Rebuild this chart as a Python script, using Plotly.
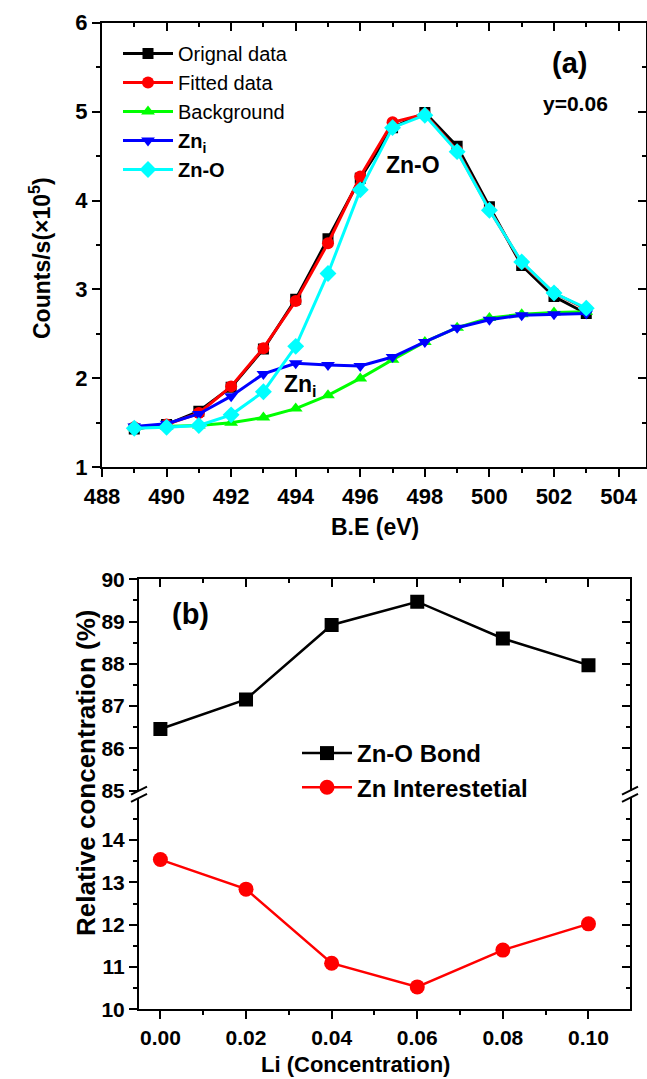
import plotly.graph_objects as go

W, H = 647, 1079

# ---------------- data: panel (a) ----------------
be_ev = [489, 490, 491, 492, 493, 494, 495, 496, 497, 498, 499, 500, 501, 502, 503]
original = [1.43, 1.48, 1.63, 1.90, 2.33, 2.89, 3.57, 4.25, 4.82, 4.99, 4.61, 3.93, 3.27, 2.92, 2.73]
fitted = [1.45, 1.48, 1.61, 1.91, 2.34, 2.87, 3.52, 4.27, 4.88, 4.97, 4.56, 3.90, 3.30, 2.96, 2.78]
background = [1.45, 1.46, 1.47, 1.50, 1.56, 1.66, 1.81, 2.00, 2.21, 2.41, 2.57, 2.68, 2.72, 2.74, 2.75]
zn_i = [1.46, 1.49, 1.60, 1.80, 2.05, 2.17, 2.15, 2.14, 2.24, 2.41, 2.57, 2.66, 2.71, 2.72, 2.73]
zn_o = [1.44, 1.45, 1.47, 1.59, 1.85, 2.36, 3.18, 4.12, 4.82, 4.96, 4.55, 3.89, 3.31, 2.96, 2.79]

# ---------------- data: panel (b) ----------------
li_conc = [0.00, 0.02, 0.04, 0.06, 0.08, 0.10]
zno_bond = [86.46, 87.16, 88.92, 89.47, 88.60, 87.97]
zn_inter = [13.54, 12.84, 11.09, 10.53, 11.40, 12.02]

FONT = "Liberation Sans, Arial, sans-serif"


def px_x(p):
    return p / W


def px_y(p):
    return (H - p) / H


fig = go.Figure()

# panel (a) traces
series_a = [
    ("Orignal data", original, "#000000", "square", 11),
    ("Fitted data", fitted, "#ff0000", "circle", 12),
    ("Background", background, "#00ff00", "triangle-up", 12),
    ("<b>Zn<sub>i</sub></b>", zn_i, "#0000ff", "triangle-down", 12),
    ("<b>Zn-O</b>", zn_o, "#00ffff", "diamond", 13),
]
for name, vals, col, sym, sz in series_a:
    fig.add_trace(go.Scatter(
        x=be_ev, y=vals, name=name, mode="lines+markers",
        line=dict(color=col, width=3),
        marker=dict(color=col, symbol=sym, size=sz),
        xaxis="x", yaxis="y", legend="legend",
    ))

# dummy traces to activate the mirror (inside-tick) axes
fig.add_trace(go.Scatter(x=[], y=[], xaxis="x3", yaxis="y3", showlegend=False))
fig.add_trace(go.Scatter(x=[], y=[], xaxis="x4", yaxis="y6", showlegend=False))
fig.add_trace(go.Scatter(x=[], y=[], xaxis="x2", yaxis="y5", showlegend=False))

# panel (b) traces
fig.add_trace(go.Scatter(
    x=li_conc, y=zno_bond, name="Zn-O Bond", mode="lines+markers",
    line=dict(color="#000000", width=2.5),
    marker=dict(color="#000000", symbol="square", size=14),
    xaxis="x2", yaxis="y4", legend="legend2",
))
fig.add_trace(go.Scatter(
    x=li_conc, y=zn_inter, name="Zn Interestetial", mode="lines+markers",
    line=dict(color="#ff0000", width=2.5),
    marker=dict(color="#ff0000", symbol="circle", size=15),
    xaxis="x2", yaxis="y2", legend="legend2",
))

tick_font = dict(family=FONT, size=22, color="black", weight="bold")
tick_font_b = dict(family=FONT, size=21, color="black", weight="bold")

ax_common = dict(showline=True, linecolor="black", linewidth=2, showgrid=False,
                 zeroline=False, tickcolor="black", tickwidth=2)

top_xdom = [px_x(102), px_x(646)]
top_ydom = [px_y(467.3), px_y(22.7)]
bot_xdom = [px_x(139), px_x(630)]
low_ydom = [px_y(1009.3), px_y(797.8)]
up_ydom = [px_y(790.7), px_y(579.3)]

xr_a = [488, 504.85]
yr_a = [1, 6]
xr_b = [-0.005, 0.1097]

fig.update_layout(
    width=W, height=H,
    margin=dict(l=0, r=0, t=0, b=0),
    paper_bgcolor="white", plot_bgcolor="white",
    font=dict(family=FONT, color="black"),
    xaxis=dict(domain=top_xdom, range=xr_a, anchor="y", tickmode="linear", tick0=488, dtick=2,
               ticks="outside", ticklen=8, tickfont=tick_font, automargin=False,
               minor=dict(dtick=1, ticks="outside", ticklen=4, tickcolor="black", tickwidth=2),
               **ax_common),
    yaxis=dict(domain=top_ydom, range=yr_a, anchor="x", tickmode="linear", tick0=1, dtick=1,
               ticks="outside", ticklen=8, tickfont=tick_font, automargin=False,
               minor=dict(dtick=0.5, ticks="outside", ticklen=4, tickcolor="black", tickwidth=2),
               **ax_common),
    xaxis3=dict(overlaying="x", side="top", anchor="y", range=xr_a, tickmode="linear", tick0=488,
                dtick=2, ticks="inside", ticklen=8, showticklabels=False,
                minor=dict(dtick=1, ticks="inside", ticklen=4, tickcolor="black", tickwidth=2),
                **ax_common),
    yaxis3=dict(overlaying="y", side="right", anchor="x3", range=yr_a, tickmode="linear", tick0=1,
                dtick=1, ticks="inside", ticklen=8, showticklabels=False,
                minor=dict(dtick=0.5, ticks="inside", ticklen=4, tickcolor="black", tickwidth=2),
                **ax_common),
    xaxis2=dict(domain=bot_xdom, range=xr_b, anchor="y2", tickmode="linear", tick0=0, dtick=0.02,
                tickformat=".2f", ticks="outside", ticklen=8, tickfont=tick_font_b, automargin=False,
                minor=dict(dtick=0.01, ticks="outside", ticklen=4, tickcolor="black", tickwidth=2),
                **ax_common),
    yaxis2=dict(domain=low_ydom, range=[10, 15], anchor="x2", tickvals=[10, 11, 12, 13, 14],
                ticks="outside", ticklen=8, tickfont=tick_font_b, automargin=False,
                minor=dict(tickvals=[10.5, 11.5, 12.5, 13.5, 14.5], ticks="outside", ticklen=4,
                           tickcolor="black", tickwidth=2),
                **ax_common),
    yaxis4=dict(domain=up_ydom, range=[85, 90], anchor="x2", tickvals=[85, 86, 87, 88, 89, 90],
                ticks="outside", ticklen=8, tickfont=tick_font_b, automargin=False,
                minor=dict(tickvals=[85.5, 86.5, 87.5, 88.5, 89.5], ticks="outside", ticklen=4,
                           tickcolor="black", tickwidth=2),
                **ax_common),
    xaxis4=dict(overlaying="x2", side="top", anchor="y6", range=xr_b, tickmode="linear", tick0=0,
                dtick=0.02, ticks="inside", ticklen=8, showticklabels=False,
                minor=dict(dtick=0.01, ticks="inside", ticklen=4, tickcolor="black", tickwidth=2),
                **ax_common),
    yaxis5=dict(overlaying="y2", side="right", anchor="x2", range=[10, 15],
                tickvals=[10, 11, 12, 13, 14], ticks="inside", ticklen=8, showticklabels=False,
                minor=dict(tickvals=[10.5, 11.5, 12.5, 13.5, 14.5], ticks="inside", ticklen=4,
                           tickcolor="black", tickwidth=2),
                **ax_common),
    yaxis6=dict(overlaying="y4", side="right", anchor="x4", range=[85, 90],
                tickvals=[85, 86, 87, 88, 89, 90], ticks="inside", ticklen=8, showticklabels=False,
                minor=dict(tickvals=[85.5, 86.5, 87.5, 88.5, 89.5], ticks="inside", ticklen=4,
                           tickcolor="black", tickwidth=2),
                **ax_common),
    legend=dict(x=px_x(118), y=px_y(34), xanchor="left", yanchor="top",
                bgcolor="rgba(0,0,0,0)", font=dict(family=FONT, size=20, color="black"),
                itemwidth=50, tracegroupgap=0),
    legend2=dict(x=px_x(297), y=px_y(731), xanchor="left", yanchor="top",
                 bgcolor="rgba(0,0,0,0)", font=dict(family=FONT, size=24, color="black", weight="bold"),
                 itemwidth=50, tracegroupgap=0),
    showlegend=True,
)

ann_font = dict(family=FONT, color="black", weight="bold")
annotations = [
    dict(text="<b>(a)</b>", x=px_x(569), y=px_y(63), font=dict(size=29, **ann_font)),
    dict(text="<b>y=0.06</b>", x=px_x(575), y=px_y(104), font=dict(size=21, **ann_font)),
    dict(text="<b>Zn-O</b>", x=px_x(413), y=px_y(165), font=dict(size=23, **ann_font)),
    dict(text="<b>Zn<sub>i</sub></b>", x=px_x(300), y=px_y(385), font=dict(size=23, **ann_font)),
    dict(text="<b>B.E (eV)</b>", x=px_x(375), y=px_y(527), font=dict(size=23, **ann_font)),
    dict(text="<b>Counts/s(×10<sup>5</sup>)</b>", x=px_x(40), y=px_y(258), textangle=-90,
         font=dict(size=23, **ann_font)),
    dict(text="<b>(b)</b>", x=px_x(190), y=px_y(614), font=dict(size=29, **ann_font)),
    dict(text="<b>Relative concentration (%)</b>", x=px_x(86), y=px_y(773), textangle=-90,
         font=dict(size=26, **ann_font)),
    dict(text="<b>Li (Concentration)</b>", x=px_x(355), y=px_y(1064), font=dict(size=22, **ann_font)),
]
for a in annotations:
    a.update(xref="paper", yref="paper", xanchor="center", yanchor="middle", showarrow=False)
fig.update_layout(annotations=annotations)

# axis-break marks on the split y axis of panel (b)
shapes = []
for xa in (0, 1):
    for ya_ref, yanc in (("y2 domain", 1), ("y4 domain", 0)):
        shapes.append(dict(type="line", xref="x2 domain", yref=ya_ref,
                           xsizemode="pixel", ysizemode="pixel", xanchor=xa, yanchor=yanc,
                           x0=-8, x1=8, y0=-4, y1=4, line=dict(color="black", width=2)))
fig.update_layout(shapes=shapes)

fig.write_html("out.html")
